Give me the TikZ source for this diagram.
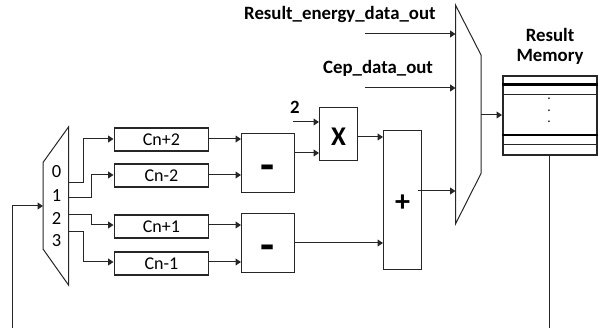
\documentclass[tikz,border=0pt]{standalone}
\usepackage{fontspec}
\setmainfont{Carlito}
\usetikzlibrary{arrows.meta}
\begin{document}
\begin{tikzpicture}[x=1pt,y=-1pt,
  wire/.style={line width=1pt,draw=black!85},
  arrow/.style={wire,-{Triangle[length=5.5pt,width=7pt]}},
  blockbox/.style={draw=black!85,line width=1pt,minimum width=0pt,inner sep=0pt,anchor=north west},
  regbox/.style={blockbox,line width=1.8pt,minimum width=94pt,font=\fontsize{18}{19}\selectfont},
  muxshape/.style={draw=black!85,line width=1pt},
  blab/.style={font=\bfseries\fontsize{18.8}{20}\selectfont,inner sep=0pt},
  plab/.style={font=\fontsize{18.5}{20}\selectfont,inner sep=0pt},
  oplab/.style={font=\bfseries\fontsize{30}{32}\selectfont,inner sep=0pt},
  minuslab/.style={font=\bfseries\fontsize{46}{46}\selectfont,inner sep=0pt},
  mullab/.style={font=\bfseries\fontsize{27}{29}\selectfont,inner sep=0pt},
  memline/.style={line width=1pt,draw=black!85},
  memthick/.style={line width=2.4pt,draw=black}]
\useasboundingbox (0,0) rectangle (600,328);
% input mux
\draw[muxshape] (43,162.5) -- (68.5,127) -- (68.5,285) -- (43,249) -- cycle;
\coordinate (m1in) at (43,206);
\coordinate (m1a) at (68.5,183);
\coordinate (m1b) at (68.5,198);
\coordinate (m1c) at (68.5,215);
\coordinate (m1d) at (68.5,232);
\node[plab] (n0) at (56.5,172) {0};
\node[plab] (n1) at (56.5,196) {1};
\node[plab] (n2) at (56.5,218) {2};
\node[plab] (n3) at (56.5,241) {3};
% registers
\node[regbox,minimum height=23pt] (r1) at (113.5,127) {Cn+2};
\node[regbox,minimum height=23pt] (r2) at (113.5,163) {Cn-2};
\node[regbox,minimum height=23pt] (r3) at (113.5,214) {Cn+1};
\node[regbox,minimum height=23pt] (r4) at (113.5,251) {Cn-1};
% subtractors
\node[blockbox,minimum width=53pt,minimum height=58.5pt] (s1) at (241,133.5) {};
\node[blockbox,minimum width=53pt,minimum height=58.5pt] (s2) at (241,213.5) {};
\node[minuslab] (s1t) at ([yshift=-10pt]s1.center) {-};
\node[minuslab] (s2t) at ([yshift=-10pt]s2.center) {-};
% multiplier and adder
\node[blockbox,minimum width=38pt,minimum height=53pt] (mul) at (319,107) {};
\node[blockbox,minimum width=38pt,minimum height=139pt] (add) at (383,130) {};
\node[mullab] (mult) at ([yshift=-3pt]mul.center) {X};
\node[oplab] (addt) at ([yshift=-3pt]add.center) {+};
% output mux
\draw[muxshape] (455.5,5) -- (481,55) -- (481,173.5) -- (455.5,224) -- cycle;
\coordinate (m2a) at (455.5,34);
\coordinate (m2b) at (455.5,88);
\coordinate (m2c) at (455.5,191);
\coordinate (m2o) at (481,115);
% memory
\node[blockbox,line width=1.8pt,minimum width=94pt,minimum height=79.5pt] (mem) at (502,75) {};
\draw[memthick] (mem.west |- 0,84.5) -- (mem.east |- 0,84.5);
\draw[memline] (mem.west |- 0,94.5) -- (mem.east |- 0,94.5);
\draw[memthick] (mem.west |- 0,135) -- (mem.east |- 0,135);
\draw[memline] (mem.west |- 0,145) -- (mem.east |- 0,145);
\node[inner sep=0pt,font=\bfseries\fontsize{11}{11}\selectfont] (d1) at (549,98.5) {.};
\node[inner sep=0pt,font=\bfseries\fontsize{11}{11}\selectfont] (d2) at (549,110.5) {.};
\node[inner sep=0pt,font=\bfseries\fontsize{11}{11}\selectfont] (d3) at (549,122) {.};
% labels
\node[blab,anchor=west] (l1) at (244,15) {Result\_energy\_data\_out};
\node[blab,anchor=west] (l2) at (323,68) {Cep\_data\_out};
\node[blab] (l3) at (295,107) {2};
\node[blab] (l4) at (550,35) {Result};
\node[blab] (l5) at (550,57) {Memory};
% free ends
\coordinate (e1) at (365,34);
\coordinate (e2) at (365,88);
\coordinate (e3) at (293,122);
\coordinate (e4) at (418,191);
\coordinate (fb1) at (12,328);
\coordinate (fb2) at (549,328);
% connectors
\draw[arrow] (fb1) |- (m1in);
\draw[wire] (mem.south -| fb2) -- (fb2);
\draw[arrow] (m1a) -| (83,139) -- (r1.west |- 0,139);
\draw[arrow] (m1b) -| (91,175) -- (r2.west |- 0,175);
\draw[arrow] (m1c) -| (91,225) -- (r3.west |- 0,225);
\draw[arrow] (m1d) -| (83,262) -- (r4.west |- 0,262);
\draw[arrow] (r1.east |- 0,139) -- (s1.west |- 0,139);
\draw[arrow] (r2.east |- 0,175) -- (s1.west |- 0,175);
\draw[arrow] (r3.east |- 0,225) -- (s2.west |- 0,225);
\draw[arrow] (r4.east |- 0,262) -- (s2.west |- 0,262);
\draw[arrow] (e3) -- (mul.west |- e3);
\draw[arrow] (s1.east |- 0,153) -- (mul.west |- 0,153);
\draw[arrow] (mul.east |- 0,137) -- (add.west |- 0,137);
\draw[arrow] (s2.east |- 0,243) -- (add.west |- 0,243);
\draw[arrow] (e4) -- (m2c);
\draw[arrow] (e1) -- (m2a);
\draw[arrow] (e2) -- (m2b);
\draw[arrow] (m2o) -- (mem.west |- m2o);
\end{tikzpicture}
\end{document}
